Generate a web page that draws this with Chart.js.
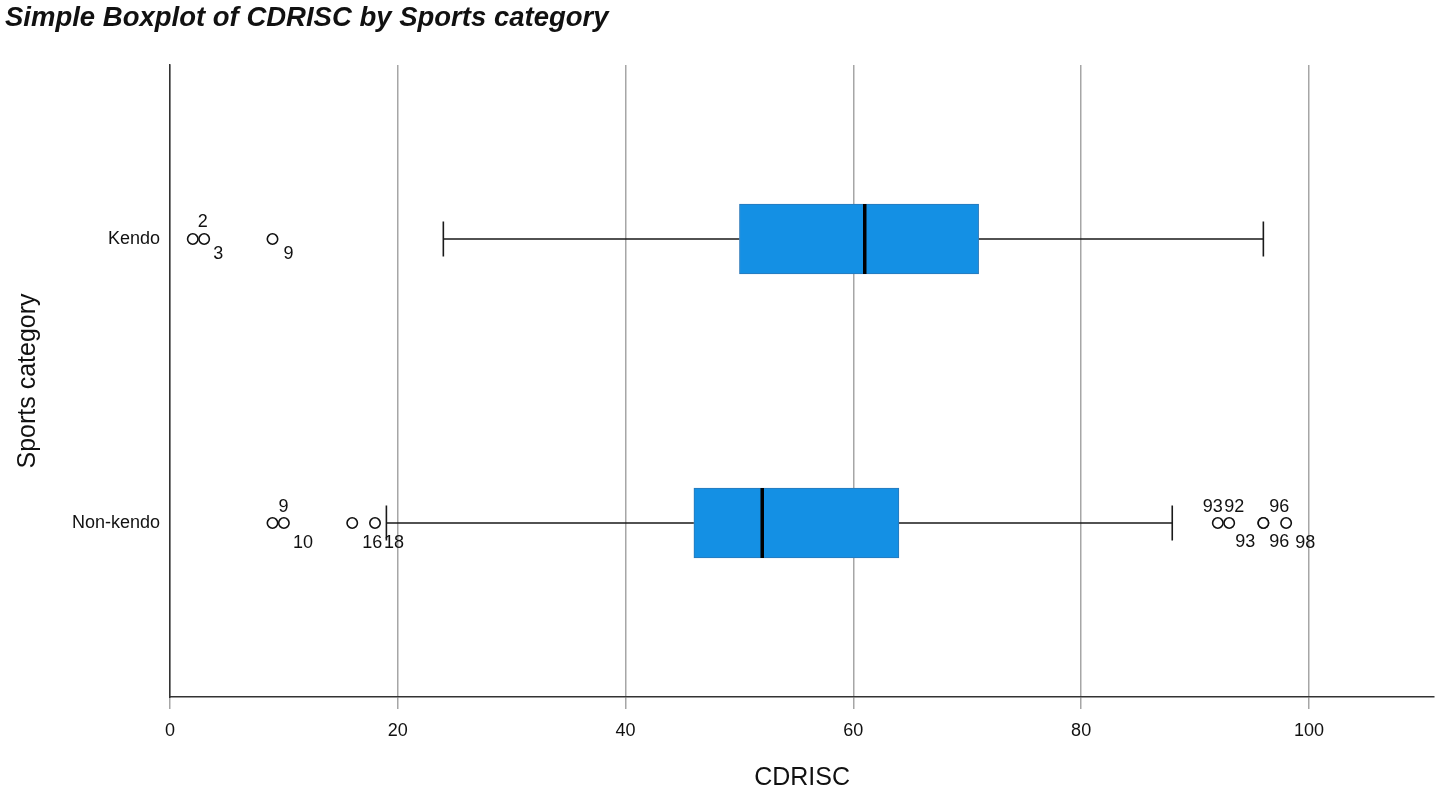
<!DOCTYPE html>
<html>
<head>
<meta charset="utf-8">
<script src="https://cdn.jsdelivr.net/npm/chart.js@4"></script>
<style>
  html, body { margin: 0; padding: 0; background: #fff; }
  #wrap { width: 1441px; height: 794px; }
</style>
</head>
<body>
<div id="wrap"><canvas id="boxChart"></canvas></div>
<script>
// values
const categories = ['Kendo', 'Non-kendo'];
const whiskerLow = [24, 19];
const quartile1 = [50, 46];
const medians = [61, 52];
const quartile3 = [71, 64];
const whiskerHigh = [96, 88];
const xTicks = [0, 20, 40, 60, 80, 100];

// outliers (value) and the case numbers SPSS prints next to them
const kendoOutliers = [2, 3, 9];
const nonKendoOutliers = [9, 10, 16, 18, 92, 93, 96, 96, 98];
const kendoCaseLabels = ['2', '3', '9'];
const kendoCaseAt = [2, 3, 9];
const nonKendoCaseLabels = ['9', '10', '16', '18', '93', '92', '93', '96', '96', '98'];
const nonKendoCaseAt = [9, 10, 16, 18, 92, 93, 93, 96, 96, 98];

const FONT = 'Liberation Sans, Arial, sans-serif';

// where each case number sits relative to its circle (px)
const labelOffsets = [
    [[10, -17], [14, 15], [16, 15]],
    [[11, -16], [19, 20], [20, 20], [19, 20], [-5, -16], [5, -16], [16, 19], [16, -16], [16, 19], [19, 20]]
];

const outlierPoints = [];
kendoOutliers.forEach(v => outlierPoints.push({ x: v, y: 0 }));
nonKendoOutliers.forEach(v => outlierPoints.push({ x: v, y: 1 }));

const boxExtras = {
    id: 'boxExtras',
    beforeDatasetsDraw(chart) {
        const { ctx, scales: { x, y } } = chart;
        ctx.save();
        ctx.strokeStyle = '#1a1a1a';
        ctx.lineWidth = 1.6;
        categories.forEach((c, i) => {
            const py = y.getPixelForValue(i);
            ctx.beginPath();
            ctx.moveTo(x.getPixelForValue(whiskerLow[i]), py);
            ctx.lineTo(x.getPixelForValue(quartile1[i]), py);
            ctx.moveTo(x.getPixelForValue(quartile3[i]), py);
            ctx.lineTo(x.getPixelForValue(whiskerHigh[i]), py);
            // end caps
            [whiskerLow[i], whiskerHigh[i]].forEach(v => {
                const px = x.getPixelForValue(v);
                ctx.moveTo(px, py - 17.5);
                ctx.lineTo(px, py + 17.5);
            });
            ctx.stroke();
        });
        ctx.restore();
    },
    afterDatasetsDraw(chart) {
        const { ctx, scales: { x, y } } = chart;
        ctx.save();
        // medians
        ctx.strokeStyle = '#000';
        ctx.lineWidth = 3.5;
        categories.forEach((c, i) => {
            const py = y.getPixelForValue(i);
            const px = x.getPixelForValue(medians[i]);
            ctx.beginPath();
            ctx.moveTo(px, py - 35);
            ctx.lineTo(px, py + 35);
            ctx.stroke();
        });
        // case number labels
        ctx.fillStyle = '#111';
        ctx.font = '18px ' + FONT;
        ctx.textAlign = 'center';
        ctx.textBaseline = 'middle';
        [[kendoCaseLabels, kendoCaseAt], [nonKendoCaseLabels, nonKendoCaseAt]].forEach(([txt, at], row) => {
            const py = y.getPixelForValue(row);
            txt.forEach((t, k) => {
                const [dx, dy] = labelOffsets[row][k];
                ctx.fillText(t, x.getPixelForValue(at[k]) + dx, py + dy);
            });
        });
        ctx.restore();
    }
};

const ctx = document.getElementById('boxChart').getContext('2d');
new Chart(ctx, {
    type: 'bar',
    data: {
        datasets: [{
            type: 'bar',
            indexAxis: 'y',
            data: categories.map((c, i) => ({ y: i, x: [quartile1[i], quartile3[i]] })),
            backgroundColor: '#1490e4',
            borderColor: '#2a78b8',
            borderWidth: 1,
            borderSkipped: false,
            barThickness: 70
        }, {
            type: 'scatter',
            data: outlierPoints,
            pointStyle: 'circle',
            pointRadius: 5.2,
            pointBorderWidth: 1.6,
            pointBorderColor: '#111',
            pointBackgroundColor: '#fff'
        }]
    },
    options: {
        responsive: true,
        maintainAspectRatio: false,
        animation: false,
        layout: { padding: { left: 5, right: 6, top: 0, bottom: 0 } },
        plugins: {
            legend: { display: false },
            tooltip: { enabled: false },
            title: {
                display: true,
                text: 'Simple Boxplot of CDRISC by Sports category',
                align: 'start',
                color: '#111',
                font: { family: FONT, size: 27.5, weight: 'bold', style: 'italic' },
                padding: { top: 2, bottom: 30 }
            }
        },
        scales: {
            x: {
                type: 'linear',
                offset: false,
                min: 0,
                max: 111,
                afterBuildTicks: (scale) => { scale.ticks = xTicks.map(v => ({ value: v })); },
                afterFit: (scale) => { scale.height = 97; },
                grid: { offset: false, color: '#a6a6a6', lineWidth: 1.5, tickLength: 12, tickColor: '#a6a6a6' },
                border: { display: true, color: '#333', width: 1.5 },
                ticks: { color: '#111', padding: 11, font: { family: FONT, size: 18 } },
                title: {
                    display: true,
                    text: 'CDRISC',
                    color: '#111',
                    font: { family: FONT, size: 25 },
                    padding: { top: 0, bottom: 1 }
                }
            },
            y: {
                type: 'linear',
                offset: false,
                reverse: true,
                min: -0.6127,
                max: 1.6127,
                afterBuildTicks: (scale) => { scale.ticks = categories.map((c, i) => ({ value: i })); },
                afterFit: (scale) => { scale.width = 165; },
                grid: { display: false, offset: false, drawTicks: false },
                border: { display: true, color: '#333', width: 1.5 },
                ticks: {
                    color: '#111',
                    padding: 10,
                    font: { family: FONT, size: 18 },
                    callback: (v) => categories[v]
                },
                title: {
                    display: true,
                    text: 'Sports category',
                    color: '#111',
                    font: { family: FONT, size: 25 },
                    padding: { top: 8, bottom: 0 }
                }
            }
        }
    },
    plugins: [boxExtras]
});
</script>
</body>
</html>
